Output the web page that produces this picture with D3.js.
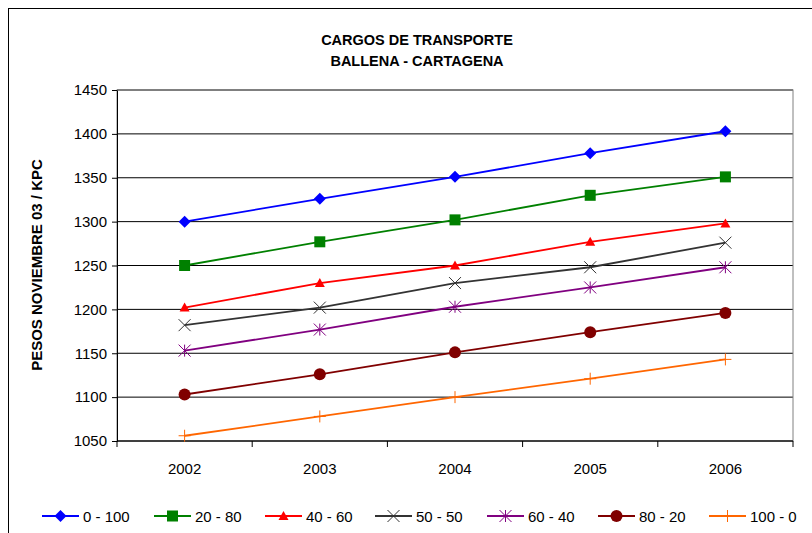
<!DOCTYPE html><html><head><script src="https://cdn.jsdelivr.net/npm/d3@7"></script>
<style>body{margin:0;background:#fff}text{font-family:Arial,"Liberation Sans",sans-serif}</style></head><body>
<svg id="c" width="812" height="533"></svg>
<script>
const years=["2002","2003","2004","2005","2006"];
const names=["0 - 100","20 - 80","40 - 60","50 - 50","60 - 40","80 - 20","100 - 0"];
const colors=["#0000FF","#008000","#FF0000","#333333","#800080","#800000","#FF6600"];
const shapes=["diamond","square","triangle","x","star","circle","plus"];
const s0=[1300,1326,1351,1378,1403];
const s1=[1250,1277,1302,1330,1351];
const s2=[1202,1230,1250,1277,1298];
const s3=[1182,1202,1230,1248,1276];
const s4=[1153,1177,1203,1225,1248];
const s5=[1103,1126,1151,1174,1196];
const s6=[1056,1078,1100,1121,1143];
const series=[s0,s1,s2,s3,s4,s5,s6];
const yTicks=[1050,1100,1150,1200,1250,1300,1350,1400,1450];
const svg=d3.select("#c");
const L=117,R=793,T=90,B=441;
svg.append("rect").attr("x",8.5).attr("y",8.5).attr("width",820).attr("height",540).attr("fill","none").attr("stroke","#000");
const x=d3.scaleBand().domain(years).range([L,R]);
const y=d3.scaleLinear().domain([1050,1450]).range([B,T]);
const g=svg.append("g");
yTicks.forEach(t=>g.append("line").attr("x1",L).attr("x2",R).attr("y1",y(t)).attr("y2",y(t)).attr("stroke","#000").attr("stroke-width",1));
g.append("rect").attr("x",L).attr("y",T).attr("width",R-L).attr("height",B-T).attr("fill","none").attr("stroke","#808080");
const ya=svg.append("g").attr("transform",`translate(${L},0)`).call(d3.axisLeft(y).tickValues(yTicks).tickFormat(d3.format("d")).tickSize(5).tickSizeOuter(0));
ya.selectAll("text").attr("font-size",15).attr("fill","#000").attr("dx",-2);
ya.select(".domain").attr("stroke","#000");
const xa=svg.append("g").attr("transform",`translate(0,${B})`);
xa.append("line").attr("x1",L).attr("x2",R).attr("stroke","#000");
const bounds=[...years.map(d=>x(d)),R];
bounds.forEach(b=>xa.append("line").attr("x1",b).attr("x2",b).attr("y2",6).attr("stroke","#000"));
years.forEach(d=>xa.append("text").attr("x",x(d)+x.bandwidth()/2).attr("y",33).attr("text-anchor","middle").attr("font-size",15).text(d));
svg.append("text").attr("x",417).attr("y",45).attr("text-anchor","middle").attr("font-size",14.5).attr("font-weight","bold").text("CARGOS DE TRANSPORTE");
svg.append("text").attr("x",417).attr("y",66).attr("text-anchor","middle").attr("font-size",14.5).attr("font-weight","bold").text("BALLENA - CARTAGENA");
svg.append("text").attr("transform","translate(42,265) rotate(-90)").attr("text-anchor","middle").attr("font-size",15).attr("font-weight","bold").text("PESOS NOVIEMBRE 03 / KPC");
function marker(sel,shape,c){
  if(shape==="diamond"){sel.append("path").attr("d","M0,-6L6,0L0,6L-6,0Z").attr("fill",c);}
  else if(shape==="square"){sel.append("rect").attr("x",-5.5).attr("y",-5.5).attr("width",11).attr("height",11).attr("fill",c);}
  else if(shape==="triangle"){sel.append("path").attr("d","M0,-5L5,4L-5,4Z").attr("fill",c);}
  else if(shape==="circle"){sel.append("circle").attr("r",6).attr("fill",c);}
  else{const r=6;const segs=shape==="x"?[[-r,-r,r,r],[-r,r,r,-r]]:shape==="plus"?[[-r,0,r,0],[0,-r,0,r]]:[[-r,-r,r,r],[-r,r,r,-r],[0,-r,0,r]];
    segs.forEach(s=>sel.append("line").attr("x1",s[0]).attr("y1",s[1]).attr("x2",s[2]).attr("y2",s[3]).attr("stroke",c).attr("stroke-width",1));}
}
const cx=d=>x(d)+x.bandwidth()/2;
series.forEach((s,i)=>{
  svg.append("path").datum(s).attr("fill","none").attr("stroke",colors[i]).attr("stroke-width",1.8)
    .attr("d",d3.line().x((v,j)=>cx(years[j])).y(v=>y(v)));
  s.forEach((v,j)=>marker(svg.append("g").attr("transform",`translate(${cx(years[j])},${y(v)})`),shapes[i],colors[i]));
});
const legendX=[42,154,265,375,487,598,709];
names.forEach((n,i)=>{
  const lg=svg.append("g").attr("transform",`translate(${legendX[i]},516)`);
  lg.append("line").attr("x1",0).attr("x2",37).attr("stroke",colors[i]).attr("stroke-width",1.8);
  marker(lg.append("g").attr("transform","translate(18.5,0)"),shapes[i],colors[i]);
  lg.append("text").attr("x",41).attr("y",5.5).attr("font-size",15).text(n);
});
</script></body></html>
